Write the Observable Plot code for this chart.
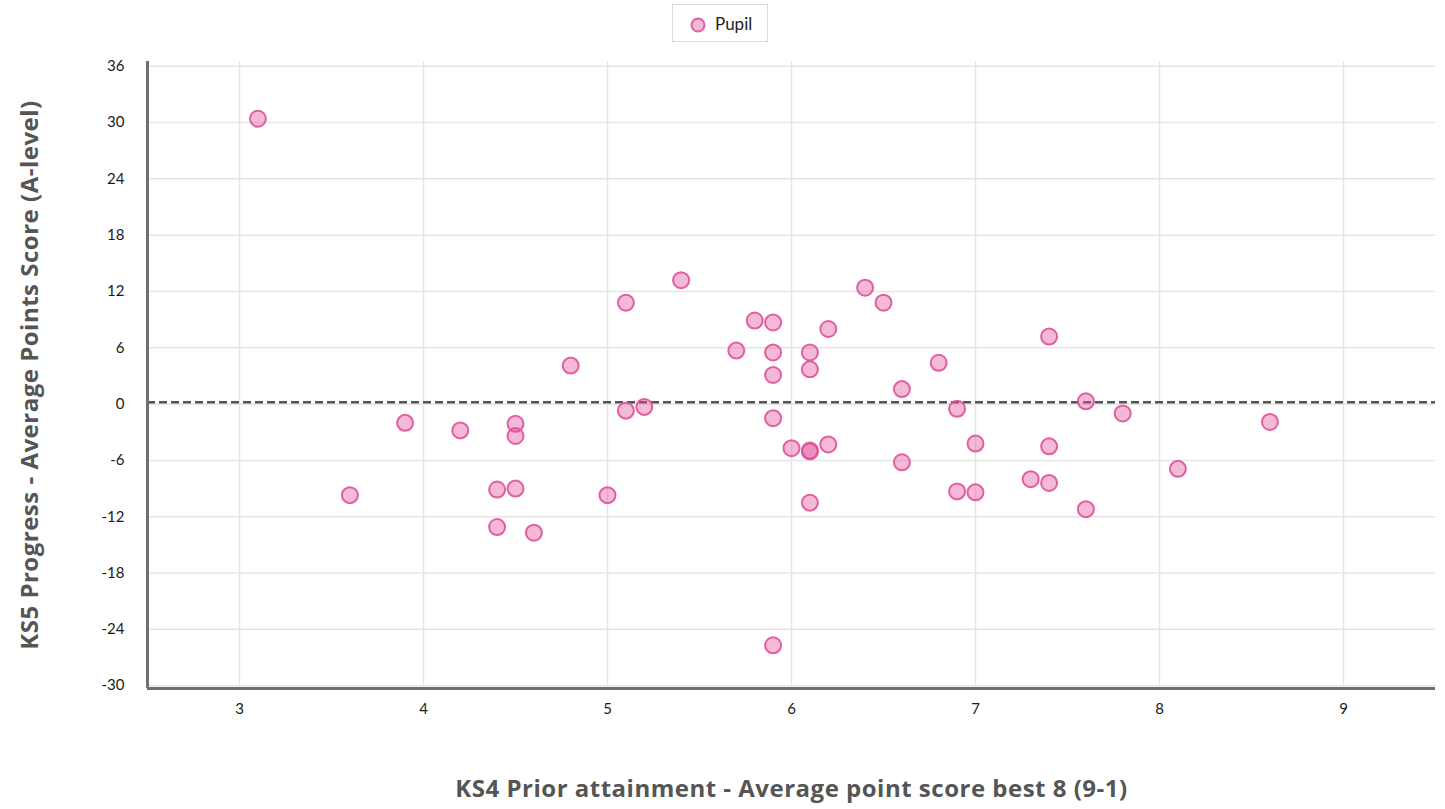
<!DOCTYPE html>
<html>
<head>
<meta charset="utf-8">
<script src="https://cdn.jsdelivr.net/npm/d3@7"></script>
<script src="https://cdn.jsdelivr.net/npm/@observablehq/plot@0.6"></script>
<style>
  html, body { margin: 0; padding: 0; background: #fff; }
  body { width: 1445px; height: 809px; overflow: hidden; font-family: Lato, "Open Sans", sans-serif; }
  #legend { position: relative; height: 50px; }
  #legend .box { position: absolute; left: 672px; top: 4px; width: 94px; height: 36px; border: 1px solid #dcdcdc; background: #fff; }
  #legend svg { position: absolute; left: 16px; top: 11px; }
  #legend span { position: absolute; left: 42px; top: 8px; font-size: 17px; color: #222; }
  #chart svg { display: block; }
</style>
</head>
<body>
<div id="legend"><div class="box"><svg width="18" height="18"><circle cx="9" cy="9" r="6.5" fill="#e0509a" fill-opacity="0.4" stroke="#e0509a" stroke-opacity="0.9" stroke-width="2"></circle></svg><span>Pupil</span></div></div>
<div id="chart"></div>
<script>
// Series: KS4 prior attainment (x) and KS5 progress (y), one entry per pupil
const priorAttainment = [3.1, 3.6, 3.9, 4.2, 4.4, 4.4, 4.5, 4.5, 4.5, 4.6, 4.8, 5.0, 5.1, 5.1, 5.2, 5.4, 5.7, 5.8, 5.9, 5.9, 5.9, 5.9, 5.9, 6.0, 6.1, 6.1, 6.1, 6.1, 6.1, 6.2, 6.2, 6.4, 6.5, 6.6, 6.6, 6.8, 6.9, 6.9, 7.0, 7.0, 7.3, 7.4, 7.4, 7.4, 7.6, 7.6, 7.8, 8.1, 8.6];
const progressScore   = [30.4, -9.7, -2.0, -2.8, -9.1, -13.1, -2.1, -3.4, -9.0, -13.7, 4.1, -9.7, 10.8, -0.7, -0.3, 13.2, 5.7, 8.9, 8.7, 5.5, 3.1, -1.5, -25.7, -4.7, -4.95, -5.05, 5.5, 3.7, -10.5, 8.0, -4.3, 12.4, 10.8, 1.6, -6.2, 4.4, -0.5, -9.3, -4.2, -9.4, -8.0, 7.2, -4.5, -8.4, 0.3, -11.2, -1.0, -6.9, -1.9];
const xTicks = [3, 4, 5, 6, 7, 8, 9];
const yTicks = [-30, -24, -18, -12, -6, 0, 6, 12, 18, 24, 30, 36];
const xDomain = [2.5, 9.5];
const yDomain = [-30.3, 36.5];
const referenceLine = [0.2];
const xTitle = "KS4 Prior attainment - Average point score best 8 (9-1)";
const yTitle = "KS5 Progress - Average Points Score (A-level)";

const data = priorAttainment.map((x, i) => ({x, y: progressScore[i]}));
const pink = "#e0509a";
const fmt = d => String(d);
const titleFont = "'Open Sans', Lato, sans-serif";

const chart = Plot.plot({
  width: 1445,
  height: 759,
  marginLeft: 147,
  marginRight: 10,
  marginTop: 11,
  marginBottom: 121,
  x: {domain: xDomain, ticks: xTicks, label: null},
  y: {domain: yDomain, ticks: yTicks, label: null},
  style: {fontFamily: "Lato, 'Open Sans', sans-serif", fontSize: "15px", color: "#1a1a1a", background: "#fff", overflow: "visible"},
  marks: [
    Plot.gridX(xTicks, {stroke: "#e5e5e5", strokeOpacity: 1, strokeWidth: 1.5}),
    Plot.gridY(yTicks, {stroke: "#e5e5e5", strokeOpacity: 1, strokeWidth: 1.5}),
    Plot.axisX(xTicks, {tickSize: 0, tickPadding: 15, label: null, fontSize: 15, tickFormat: fmt}),
    Plot.axisY(yTicks, {tickSize: 0, tickPadding: 23, label: null, fontSize: 15, tickFormat: fmt}),
    Plot.ruleY(referenceLine, {stroke: "#555", strokeWidth: 2.5, strokeDasharray: "8,4"}),
    Plot.dot(data, {x: "x", y: "y", r: 8, fill: pink, fillOpacity: 0.4, stroke: pink, strokeOpacity: 0.9, strokeWidth: 2}),
    Plot.ruleX([xDomain[0]], {stroke: "#707070", strokeWidth: 3}),
    Plot.ruleY([yDomain[0]], {stroke: "#707070", strokeWidth: 3}),
    Plot.text([xTitle], {frameAnchor: "bottom", dy: 101, textAnchor: "middle", lineAnchor: "middle", fontFamily: titleFont, fontSize: 24, fontWeight: 700, fill: "#555"}),
    Plot.text([yTitle], {frameAnchor: "left", dx: -117, rotate: -90, textAnchor: "middle", lineAnchor: "middle", fontFamily: titleFont, fontSize: 24, fontWeight: 700, fill: "#555"})
  ]
});
d3.select(chart).selectAll('g[font-size="24"]').attr("letter-spacing", "0.5px");
document.getElementById("chart").appendChild(chart);
</script>
</body>
</html>
